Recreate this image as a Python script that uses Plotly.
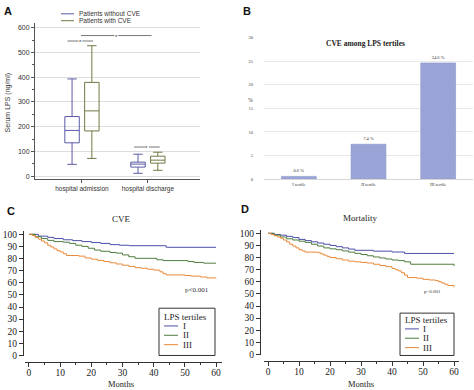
import plotly.graph_objects as go

W, H = 474, 390
def px(x): return x / W
def py(y): return 1 - y / H

# ---------------- Data ----------------
# Panel A: serum LPS box plots
groups = ["hospital admission", "hospital discharge"]
group_pos = [1, 2]
noCVE_q1 = [135, 37]; noCVE_med = [185, 49]; noCVE_q3 = [241, 57]; noCVE_lo = [48, 12]; noCVE_hi = [393, 89]
CVE_q1 = [183, 53]; CVE_med = [264, 65]; CVE_q3 = [379, 81]; CVE_lo = [72, 24]; CVE_hi = [527, 97]

# Panel B: CVE among LPS tertiles
tertile_labels = ["I tertile", "II tertile", "III tertile"]
cve_pct = [0.6, 7.4, 24.6]

# Panel C: CVE-free survival by LPS tertile
C_I_t = [0, 3, 6, 8, 11, 14, 17, 20, 23, 26, 29, 32, 44, 60]
C_I_s = [100, 98.5, 97.5, 96.5, 95.5, 94.8, 94, 93.2, 92.5, 91.5, 91, 90.6, 89.3, 89.3]
C_II_t = [0, 2, 4, 6, 8, 11, 13, 15, 17, 19, 21, 23, 26, 28, 30, 32, 34, 41, 43, 51, 53, 56, 60]
C_II_s = [100, 98, 96.5, 95, 94, 93.5, 92.5, 91, 90, 88.5, 87, 86, 85, 84.5, 83, 81.5, 80.2, 79, 78.3, 77.5, 76.8, 76.2, 76.2]
C_III_t = [0, 1, 2, 3, 4, 5, 6, 7, 8, 9, 10, 11, 12, 16, 18, 20, 22, 24, 26, 28, 30, 32, 34, 36, 38, 40, 42, 43, 44, 50, 52, 55, 57, 60]
C_III_s = [100, 99, 97.5, 96, 94.5, 93, 91, 89.5, 88, 86.5, 85.5, 84, 82.5, 82, 80.5, 79.5, 78.5, 77.5, 76.5, 75.5, 74.5, 73.5, 72.5, 72, 71.2, 70.5, 69, 67.5, 66.5, 66, 65.5, 64.8, 64, 63.7]

# Panel D: survival (mortality) by LPS tertile
D_I_t = [0, 2, 4, 6, 8, 10, 12, 14, 16, 18, 20, 22, 24, 26, 28, 34, 40, 44, 60]
D_I_s = [100, 99, 98.5, 97.5, 96.5, 95, 94, 93, 92, 91, 90, 89, 88, 87, 86, 85.3, 84.6, 83.4, 83.4]
D_II_t = [0, 2, 4, 6, 8, 10, 12, 14, 16, 18, 20, 22, 24, 26, 28, 30, 32, 34, 36, 38, 40, 42, 44, 46, 59, 60]
D_II_s = [100, 98.5, 97, 95.5, 94.5, 93.5, 92.5, 91, 89.5, 88, 87.2, 86.5, 85.5, 84.5, 83.5, 82.5, 81.5, 80.5, 79.7, 78.8, 78, 77.5, 76.5, 74.5, 74.5, 73]
D_III_t = [0, 1, 2, 3, 4, 5, 6, 7, 8, 9, 10, 11, 12, 16, 17, 18, 19, 20, 22, 24, 26, 28, 30, 32, 34, 36, 38, 40, 41, 42, 43, 44, 45, 48, 50, 52, 54, 55, 56, 57, 58, 60]
D_III_s = [100, 99, 98, 97, 96, 94.5, 93, 91, 89.5, 88, 86.5, 85.5, 84.5, 84, 83, 82, 81, 80, 79, 78, 77, 76.5, 76, 75.5, 74.5, 73.5, 72.5, 71, 70, 69, 67.5, 65.5, 63.5, 63, 62, 61.5, 61, 60, 59, 58, 57, 55.5]

tertiles = ["I", "II", "III"]

# ---------------- Styles ----------------
C_NO = "#5a5aa6"
C_YES = "#6e7a44"
KM_COL = ["#4b4fa8", "#4f7f3f", "#ea8a3a"]
SANS = "Liberation Sans, Arial, sans-serif"
SERIF = "Liberation Serif, Times New Roman, serif"

fig = go.Figure()

# ---- Panel A boxes ----
fig.add_trace(go.Box(x=group_pos, q1=noCVE_q1, median=noCVE_med, q3=noCVE_q3,
                     lowerfence=noCVE_lo, upperfence=noCVE_hi, name="Patients without CVE",
                     boxpoints=False, line=dict(color=C_NO, width=1), fillcolor="rgba(0,0,0,0)",
                     whiskerwidth=0.65, showlegend=False, xaxis="x", yaxis="y"))
fig.add_trace(go.Box(x=group_pos, q1=CVE_q1, median=CVE_med, q3=CVE_q3,
                     lowerfence=CVE_lo, upperfence=CVE_hi, name="Patients with CVE",
                     boxpoints=False, line=dict(color=C_YES, width=1), fillcolor="rgba(0,0,0,0)",
                     whiskerwidth=0.65, showlegend=False, xaxis="x", yaxis="y"))

# ---- Panel B bars ----
fig.add_trace(go.Bar(x=tertile_labels, y=cve_pct, width=0.5,
                     marker=dict(color="#9aa4d7", line=dict(color="#8893ca", width=0.6)),
                     text=[f"{v} %" for v in cve_pct], textposition="outside",
                     textfont=dict(family=SERIF, size=4.5, color="#333"),
                     cliponaxis=False, showlegend=False, xaxis="x2", yaxis="y2"))

# ---- Panel C / D KM curves ----
for t, s, c in zip([C_I_t, C_II_t, C_III_t], [C_I_s, C_II_s, C_III_s], KM_COL):
    fig.add_trace(go.Scatter(x=t, y=s, mode="lines", line=dict(color=c, width=1, shape="hv"),
                             showlegend=False, xaxis="x3", yaxis="y3"))
for t, s, c in zip([D_I_t, D_II_t, D_III_t], [D_I_s, D_II_s, D_III_s], KM_COL):
    fig.add_trace(go.Scatter(x=t, y=s, mode="lines", line=dict(color=c, width=1, shape="hv"),
                             showlegend=False, xaxis="x4", yaxis="y4"))

# ---------------- Axes ----------------
km_x = dict(showgrid=False, zeroline=False, showline=True, linecolor="#333", linewidth=1,
            ticks="outside", ticklen=4, tickcolor="#333", tick0=0, dtick=10,
            minor=dict(ticks="outside", ticklen=2, dtick=5, tickcolor="#333"),
            ticklabelstandoff=-3,
            tickfont=dict(family=SERIF, size=9.5, color="#222"))
km_y = dict(showgrid=False, zeroline=False, showline=True, linecolor="#333", linewidth=1,
            ticks="outside", ticklen=4, tickcolor="#333", tick0=0, dtick=10,
            tickfont=dict(family=SERIF, size=9.5, color="#222"))

fig.update_layout(
    width=W, height=H, margin=dict(l=0, r=0, t=0, b=0),
    paper_bgcolor="white", plot_bgcolor="white",
    boxmode="group", boxgap=0.4, boxgroupgap=0.27,
    # A
    xaxis=dict(domain=[px(35), px(200)], range=[0.288, 2.79], anchor="y",
               tickvals=group_pos, ticktext=groups, ticks="outside", ticklen=3, tickcolor="#555",
               showline=True, linecolor="#555", linewidth=1, showgrid=False, zeroline=False,
               tickfont=dict(family=SANS, size=6.5, color="#333")),
    yaxis=dict(domain=[py(180), py(21)], range=[-12, 620], anchor="x",
               tick0=0, dtick=100, ticks="outside", ticklen=3, tickcolor="#555",
               minor=dict(ticks="outside", ticklen=2, dtick=50, tickcolor="#555"),
               showline=True, linecolor="#555", linewidth=1, showgrid=True, gridcolor="#dddddd",
               gridwidth=0.8, zeroline=False, tickfont=dict(family=SANS, size=7, color="#333")),
    # B
    xaxis2=dict(domain=[px(264), px(473)], range=[-0.5, 2.5], anchor="y2",
                showline=True, linecolor="#d6d6d6", linewidth=0.8, ticks="", showgrid=False,
                tickfont=dict(family=SERIF, size=4.5, color="#333")),
    yaxis2=dict(domain=[py(180), py(36)], range=[0, 30], anchor="x2", tick0=0, dtick=5,
                showgrid=True, gridcolor="#e8e8e8", gridwidth=0.8, zeroline=False, showline=False,
                ticklabelstandoff=10, tickfont=dict(family=SERIF, size=4.5, color="#444")),
    # C
    xaxis3=dict(km_x, domain=[px(25), px(222)], range=[-1.28, 61.9], anchor="free", position=py(366)),
    yaxis3=dict(km_y, domain=[py(360), py(233)], range=[-0.8, 102.4], anchor="free", position=px(23)),
    # D
    xaxis4=dict(km_x, domain=[px(264), px(459)], range=[-1.29, 61.6], anchor="free", position=py(365)),
    yaxis4=dict(km_y, domain=[py(359), py(232)], range=[-0.8, 102.4], anchor="free", position=px(260)),
)

shapes = []
ann = []

def note(text, x, y, size, family=SERIF, xanchor="center", yanchor="middle", color="#222", **kw):
    ann.append(dict(text=text, x=px(x), y=py(y), xref="paper", yref="paper",
                    xanchor=xanchor, yanchor=yanchor, showarrow=False,
                    font=dict(family=family, size=size, color=color), **kw))

# Panel letters
for lab, x, y in [("A", 2, 1), ("B", 241, 1), ("C", 5, 204), ("D", 239, 202)]:
    note(f"<b>{lab}</b>", x, y, 11, family=SANS, xanchor="left", yanchor="top", color="#111")

# ---- Panel A extras ----
note("Serum LPS (ng/ml)", 8, 102, 7, family=SANS, color="#333", textangle=-90)
for yy, lab, col in [(12, "Patients without CVE", C_NO), (19, "Patients with CVE", C_YES)]:
    shapes.append(dict(type="line", xref="paper", yref="paper", x0=px(61), x1=px(74),
                       y0=py(yy), y1=py(yy), line=dict(color=col, width=1)))
    note(lab, 77, yy, 6.5, family=SANS, xanchor="left", color="#333")
# significance brackets (data coords of panel A)
for x0, x1, yv in [(0.78, 1.17, 546), (0.985, 2.056, 568), (1.79, 2.18, 118)]:
    xm = (x0 + x1) / 2
    for a, b in [(x0, xm - 0.03), (xm + 0.03, x1)]:
        shapes.append(dict(type="line", xref="x", yref="y", x0=a, x1=b, y0=yv, y1=yv,
                           line=dict(color="#555", width=0.8)))
    ann.append(dict(text="*", x=xm, y=yv, xref="x", yref="y", showarrow=False,
                    xanchor="center", yanchor="middle", yshift=-1,
                    font=dict(family=SANS, size=6, color="#333")))

# ---- Panel B extras ----
note("<b>CVE among LPS tertiles</b>", 365, 42, 7.5)
note("%", 250, 100, 5.5, color="#333")

# ---- Panels C / D extras ----
note("CVE", 121, 220, 9)
note("Mortality", 360, 219, 9)
note("Months", 121, 388, 8.5)
note("Months", 361, 388, 8.5)
note("p<0.001", 197, 293, 7, color="#333")
note("p=0.001", 432, 294, 5, color="#333")

# legends for C and D
for (bx0, by0, bx1, by1, lx0, lx1, tx, ys, ty) in [
        (159, 311, 215, 359, 164, 178, 181, [329, 338.5, 348], 320),
        (400, 316, 454, 359, 405, 419, 421, [332, 341.5, 351], 323)]:
    shapes.append(dict(type="rect", xref="paper", yref="paper", x0=px(bx0), x1=px(bx1),
                       y0=py(by0), y1=py(by1), line=dict(color="#333", width=1), fillcolor="white",
                       layer="below"))
    note("LPS tertiles", bx0 + 3, ty, 9, xanchor="left")
    for yy, lab, col in zip(ys, tertiles, KM_COL):
        shapes.append(dict(type="line", xref="paper", yref="paper", x0=px(lx0), x1=px(lx1),
                           y0=py(yy), y1=py(yy), line=dict(color=col, width=1)))
        note(lab, tx, yy, 9, xanchor="left")

fig.update_layout(shapes=shapes, annotations=ann)
fig.write_html("out.html", config={"displayModeBar": False},
               post_script="document.body.style.margin='0';document.body.style.overflow='hidden';")
